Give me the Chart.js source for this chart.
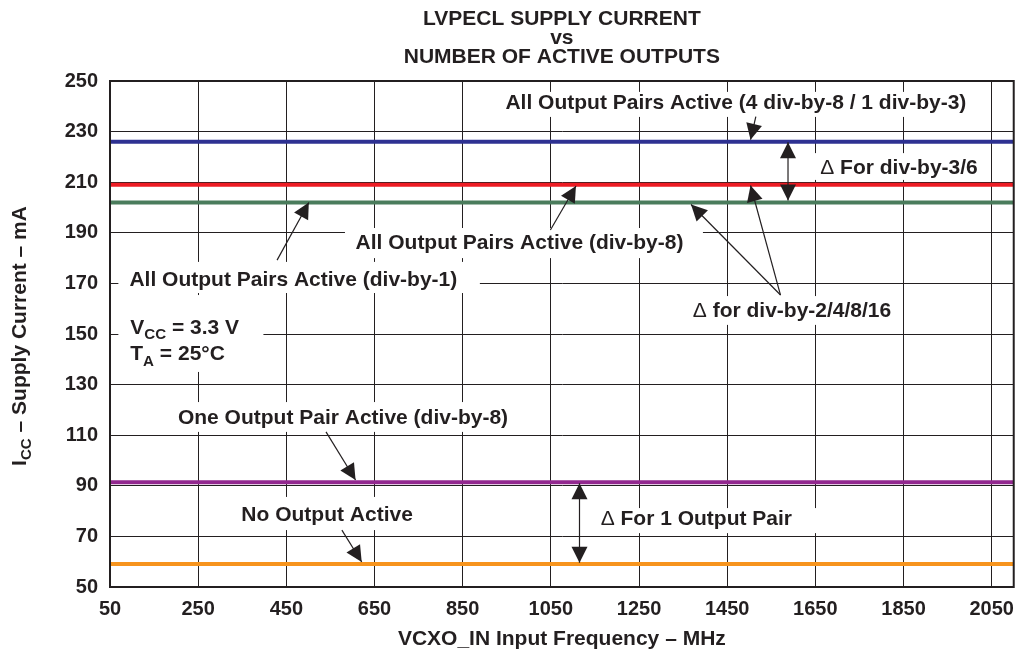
<!DOCTYPE html>
<html><head><meta charset="utf-8">
<script src="https://cdn.jsdelivr.net/npm/chart.js@4.4.1/dist/chart.umd.min.js"></script>
<style>html,body{margin:0;padding:0;background:#fff;}#wrap{width:1024px;height:656px;}</style>
</head><body><div id="wrap"><canvas id="c" width="1024" height="656"></canvas></div>
<script>
// ---- data ----
const freq = [50, 2100];
const xTicks = [50, 250, 450, 650, 850, 1050, 1250, 1450, 1650, 1850, 2050];
const yTicks = [50, 70, 90, 110, 130, 150, 170, 190, 210, 230, 250];
const allPairs4x8 = [226, 226];
const allPairsDiv8 = [209, 209];
const allPairsDiv1 = [202, 202];
const onePairDiv8 = [91.4, 91.4];
const noOutput = [59.1, 59.1];
const seriesNames = ['All Output Pairs Active (4 div-by-8 / 1 div-by-3)', 'All Output Pairs Active (div-by-8)', 'All Output Pairs Active (div-by-1)', 'One Output Pair Active (div-by-8)', 'No Output Active'];
const titleLines = ['LVPECL SUPPLY CURRENT', 'vs', 'NUMBER OF ACTIVE OUTPUTS'];
const xTitle = 'VCXO_IN Input Frequency – MHz';

// ---- styles / annotations ----
const ink = '#231F20';
const FONT = '"Liberation Sans", Arial, Helvetica, sans-serif';
const colors = ['#2E3192', '#ED1C24', '#4A7C5C', '#92278F', '#F7941D'];
const values = [allPairs4x8, allPairsDiv8, allPairsDiv1, onePairDiv8, noOutput];

// labels: runs of [text, style] ; style b=bold, s=subscript, n=normal ; x,y in data units (left, cap centre)
const notes = [
  {runs: [[seriesNames[0], 'b']], x: 947, y: 241.8, box: [929, 245.7, 1992, 235.8]},
  {runs: [['Δ ', 'n'], ['For div-by-3/6', 'b']], x: 1661, y: 216.4, box: [1645, 221.5, 2024, 210.9]},
  {runs: [[seriesNames[1], 'b']], x: 607, y: 186.5, box: [583, 191.9, 1395, 180.0]},
  {runs: [[seriesNames[2], 'b']], x: 94, y: 172.1, box: [69, 178.5, 889, 166.2]},
  {runs: [['Δ ', 'n'], ['for div-by-2/4/8/16', 'b']], x: 1372, y: 159.5, box: [1357, 165.0, 1823, 153.6]},
  {runs: [['V', 'b'], ['CC', 's'], [' = 3.3 V', 'b']], x: 96, y: 152.9, box: [69, 165.4, 398, 135]},
  {runs: [['T', 'b'], ['A', 's'], [' = 25°C', 'b']], x: 96, y: 142.5, box: null},
  {runs: [[seriesNames[3], 'b']], x: 204, y: 117.3, box: [186, 123.1, 963, 111.3]},
  {runs: [[seriesNames[4], 'b']], x: 348, y: 78.9, box: [333, 85.6, 749, 72.5]},
  {runs: [['Δ ', 'n'], ['For 1 Output Pair', 'b']], x: 1163, y: 77.3, box: [1150, 81.2, 1663, 71.3]}
];
// arrows: tail -> tip in data units ; both: heads at both ends
const arrows = [
  {from: [1515, 235.9], to: [1503, 226.8]},
  {from: [1049, 191.1], to: [1107, 208.5]},
  {from: [429, 179.2], to: [501, 202.0]},
  {from: [1571, 165.4], to: [1503, 208.7]},
  {from: [1571, 165.4], to: [1368, 201.2]},
  {from: [540, 111.3], to: [607, 92.3]},
  {from: [576, 72.5], to: [621, 59.9]},
  {from: [1588, 225.8], to: [1588, 202.8], both: true},
  {from: [1115, 91.0], to: [1115, 59.6], both: true}
];

function drawRuns(ctx, runs, x, base, size) {
  let cx = x;
  for (const [t, st] of runs) {
    const fs = st === 's' ? size * 0.72 : size;
    ctx.font = (st === 'n' ? '' : 'bold ') + fs + 'px ' + FONT;
    const off = st === 's' ? size * 0.24 : 0;
    ctx.fillText(t, cx, base + off);
    cx += ctx.measureText(t).width;
  }
}
function head(ctx, x1, y1, x2, y2) {
  const L = 16, W = 8;
  const a = Math.atan2(y2 - y1, x2 - x1);
  const c = Math.cos(a), s = Math.sin(a);
  ctx.beginPath();
  ctx.moveTo(x2, y2);
  ctx.lineTo(x2 - L * c + W * s, y2 - L * s - W * c);
  ctx.lineTo(x2 - L * c - W * s, y2 - L * s + W * c);
  ctx.closePath();
  ctx.fill();
}

const notePlugin = {
  id: 'notes',
  beforeDatasetsDraw(chart) {
    const ctx = chart.ctx, xs = chart.scales.x, ys = chart.scales.y;
    ctx.save();
    ctx.fillStyle = '#fff';
    for (const n of notes) {
      if (!n.box) continue;
      const x1 = xs.getPixelForValue(n.box[0]), y1 = ys.getPixelForValue(n.box[1]);
      const x2 = xs.getPixelForValue(n.box[2]), y2 = ys.getPixelForValue(n.box[3]);
      ctx.fillRect(x1, y1, x2 - x1, y2 - y1);
    }
    ctx.restore();
  },
  afterDatasetsDraw(chart) {
    const ctx = chart.ctx, xs = chart.scales.x, ys = chart.scales.y, ca = chart.chartArea;
    ctx.save();
    // frame
    ctx.strokeStyle = ink; ctx.lineWidth = 2;
    ctx.strokeRect(ca.left, ca.top, ca.right - ca.left, ca.bottom - ca.top);
    ctx.fillStyle = ink; ctx.strokeStyle = ink; ctx.lineWidth = 1.2;
    ctx.textAlign = 'left'; ctx.textBaseline = 'alphabetic';
    const size = 21;
    for (const n of notes) {
      drawRuns(ctx, n.runs, xs.getPixelForValue(n.x), ys.getPixelForValue(n.y) + size * 0.358, size);
    }
    for (const a of arrows) {
      const x1 = xs.getPixelForValue(a.from[0]), y1 = ys.getPixelForValue(a.from[1]);
      const x2 = xs.getPixelForValue(a.to[0]), y2 = ys.getPixelForValue(a.to[1]);
      ctx.beginPath(); ctx.moveTo(x1, y1); ctx.lineTo(x2, y2); ctx.stroke();
      head(ctx, x1, y1, x2, y2);
      if (a.both) head(ctx, x2, y2, x1, y1);
    }
    // main title
    const cx = (ca.left + ca.right) / 2;
    ctx.textAlign = 'center';
    ctx.font = 'bold 21px ' + FONT;
    const bases = [25, 44, 63];
    titleLines.forEach((t, i) => ctx.fillText(t, cx, bases[i]));
    // y title (rotated, with subscript)
    const runs = [['I', 'b'], ['CC', 's'], [' – Supply Current – mA', 'b']];
    let w = 0;
    for (const [t, st] of runs) {
      ctx.font = 'bold ' + (st === 's' ? size * 0.72 : size) + 'px ' + FONT;
      w += ctx.measureText(t).width;
    }
    ctx.translate(26, (ca.top + ca.bottom) / 2 + 2);
    ctx.rotate(-Math.PI / 2);
    ctx.textAlign = 'left';
    drawRuns(ctx, runs, -w / 2, 0, size);
    ctx.restore();
  }
};

Chart.defaults.font.family = FONT;
Chart.defaults.color = ink;

new Chart(document.getElementById('c'), {
  type: 'line',
  data: {
    datasets: values.map((v, i) => ({
      label: seriesNames[i],
      data: freq.map((f, j) => ({x: f, y: v[j]})),
      borderColor: colors[i],
      backgroundColor: colors[i],
      borderWidth: 4,
      pointRadius: 0,
      fill: false,
      tension: 0
    }))
  },
  options: {
    responsive: false,
    animation: false,
    devicePixelRatio: 1,
    layout: {padding: {top: 81, right: 3, left: 0, bottom: 0}},
    plugins: {legend: {display: false}, tooltip: {enabled: false}, title: {display: false}},
    scales: {
      x: {
        type: 'linear', min: freq[0], max: freq[1],
        afterBuildTicks: s => { s.ticks = xTicks.map(v => ({value: v})); },
        afterFit: s => { s.height = 69; },
        grid: {color: ink, lineWidth: 1, drawTicks: false},
        border: {display: true, color: ink, width: 2},
        ticks: {color: ink, font: {size: 20, weight: 'bold'}, padding: 10, maxRotation: 0, autoSkip: false, callback: v => String(v)},
        title: {display: true, text: xTitle, color: ink, font: {size: 21, weight: 'bold'}, padding: {top: 0, bottom: 4}}
      },
      y: {
        type: 'linear', min: yTicks[0], max: yTicks[yTicks.length - 1],
        afterBuildTicks: s => { s.ticks = yTicks.map(v => ({value: v})); },
        afterFit: s => { s.width = 110; },
        grid: {color: ink, lineWidth: 1, drawTicks: false},
        border: {display: true, color: ink, width: 2},
        ticks: {color: ink, font: {size: 20, weight: 'bold'}, padding: 12, autoSkip: false, callback: v => String(v)}
      }
    }
  },
  plugins: [notePlugin]
});
</script>
</body></html>
